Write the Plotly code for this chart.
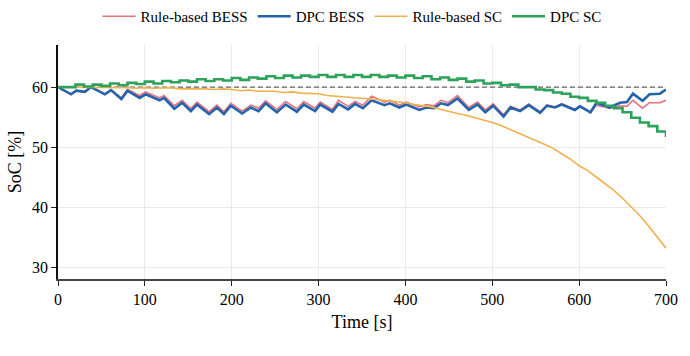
import plotly.graph_objects as go

# ---------------- data ----------------
bess_t = [0, 15, 21, 31, 38, 54, 61, 73, 80, 94, 101, 117, 122, 134, 143, 153, 160, 174, 183, 191,
          199, 212, 222, 231, 239, 252, 262, 275, 283, 296, 302, 316, 323, 334, 342, 351, 361, 376,
          382, 393, 401, 416, 424, 433, 441, 449, 460, 473, 483, 492, 501, 513, 521, 532, 542, 555,
          563, 572, 580, 595, 601, 613, 620, 635, 647, 655, 662, 673, 681, 693, 700]

dpc_bess = [60.0, 58.8, 59.4, 59.2, 60.0, 58.8, 59.5, 58.0, 59.4, 58.2, 58.8, 57.8, 58.2, 56.4, 57.4,
            56.0, 57.1, 55.5, 56.6, 55.5, 56.9, 55.6, 56.6, 56.0, 57.3, 55.8, 57.1, 55.9, 57.1, 56.0,
            57.1, 55.9, 57.2, 56.3, 57.2, 56.5, 57.8, 57.0, 57.3, 56.6, 57.1, 56.2, 56.6, 56.5, 57.3,
            57.0, 58.1, 56.2, 57.1, 55.8, 56.9, 55.1, 56.6, 56.0, 57.0, 55.7, 56.9, 56.6, 57.1, 56.2,
            56.8, 55.8, 57.4, 56.6, 57.4, 57.5, 58.9, 57.7, 58.8, 58.9, 59.6]

rule_bess = [60.0, 58.8, 59.4, 59.2, 60.0, 58.8, 59.5, 58.2, 59.6, 58.6, 59.2, 58.2, 58.6, 56.9, 57.8,
             56.4, 57.5, 55.9, 57.0, 55.9, 57.3, 56.0, 57.0, 56.5, 57.7, 56.3, 57.6, 56.4, 57.6, 56.5,
             57.5, 56.3, 57.8, 56.8, 57.6, 57.0, 58.5, 57.5, 57.8, 57.0, 57.5, 56.7, 57.1, 56.9, 57.8,
             57.4, 58.6, 56.6, 57.5, 56.2, 57.2, 55.4, 56.8, 56.2, 57.2, 55.9, 57.0, 56.7, 57.2, 56.3,
             56.9, 55.7, 57.0, 56.5, 56.9, 56.8, 57.8, 56.5, 57.4, 57.4, 57.8]

sc_t = list(range(0, 701, 10))

dpc_sc = [60.0, 60.0, 60.4, 60.1, 60.4, 60.2, 60.6, 60.3, 60.7, 60.5, 60.9, 60.6, 61.0, 60.8, 61.1,
          60.9, 61.3, 61.0, 61.3, 61.1, 61.5, 61.2, 61.6, 61.4, 61.8, 61.5, 61.9, 61.6, 61.9, 61.7,
          62.0, 61.7, 62.0, 61.7, 62.0, 61.7, 62.0, 61.7, 61.9, 61.6, 61.9, 61.5, 61.8, 61.3, 61.6,
          61.2, 61.4, 60.9, 61.1, 60.6, 60.7, 60.3, 60.4, 60.0, 60.0, 59.6, 59.5, 59.1, 58.9, 58.4,
          58.2, 57.7, 57.4, 56.9, 56.5, 55.8, 54.9, 54.1, 53.5, 52.6, 51.7]

rule_sc = [60.0, 60.0, 59.9, 60.0, 59.9, 59.9, 60.0, 59.9, 59.9, 59.8, 59.9, 59.8, 59.8, 59.9, 59.7,
           59.7, 59.8, 59.7, 59.6, 59.7, 59.6, 59.4, 59.5, 59.3, 59.3, 59.3, 59.1, 59.2, 59.0, 58.9,
           58.9, 58.6, 58.5, 58.4, 58.3, 58.2, 58.1, 57.9, 57.7, 57.6, 57.4, 57.1, 56.9, 56.7, 56.3,
           55.9, 55.6, 55.3, 54.9, 54.6, 54.1, 53.6, 53.0, 52.3, 51.8, 51.1, 50.5, 49.8, 48.9, 48.0,
           46.9, 46.1, 45.0, 43.9, 42.8, 41.5, 40.1, 38.6, 36.9, 35.1, 33.2]

reference_soc = 60
x_ticks = [0, 100, 200, 300, 400, 500, 600, 700]
y_ticks = [30, 40, 50, 60]

# ---------------- figure ----------------
FONT = "Liberation Serif, Times New Roman, serif"

fig = go.Figure()
# reference SoC level (drawn first so it sits above the grid but below the data lines)
fig.add_trace(go.Scatter(x=[sc_t[0], sc_t[-1]], y=[reference_soc, reference_soc], mode="lines",
                         showlegend=False, hoverinfo="skip",
                         line=dict(color="#444444", width=1, dash="5px,3px")))
fig.add_trace(go.Scatter(x=bess_t, y=rule_bess, mode="lines", name="Rule-based BESS",
                         line=dict(color="#e6737a", width=1.6)))
fig.add_trace(go.Scatter(x=bess_t, y=dpc_bess, mode="lines", name="DPC BESS",
                         line=dict(color="#2563ad", width=2.6)))
fig.add_trace(go.Scatter(x=sc_t, y=rule_sc, mode="lines", name="Rule-based SC",
                         line=dict(color="#f1b04c", width=1.6)))
fig.add_trace(go.Scatter(x=sc_t, y=dpc_sc, mode="lines", name="DPC SC", line_shape="hv",
                         line=dict(color="#2ca25a", width=2.6)))

fig.update_layout(
    width=690, height=356,
    margin=dict(l=58, r=20, t=43, b=77),
    paper_bgcolor="white", plot_bgcolor="white",
    font=dict(family=FONT, size=16, color="black"),
    showlegend=True,
    legend=dict(orientation="h", x=0.4837, xanchor="center", xref="paper",
                y=1.0, yref="container", yanchor="top",
                font=dict(family=FONT, size=15), itemwidth=33,
                bgcolor="rgba(0,0,0,0)"),
)
fig.update_xaxes(
    range=[0, 700], tickvals=x_ticks, ticks="outside", ticklen=5, tickcolor="#222",
    showline=True, linecolor="#444", linewidth=1.5, mirror=False,
    showgrid=True, gridcolor="#e9e9e9", gridwidth=1, zeroline=False,
    title=dict(text="Time [s]", font=dict(size=18), standoff=8),
    tickfont=dict(size=16),
)
fig.update_yaxes(
    range=[28.07, 67.0], tickvals=y_ticks, ticks="outside", ticklen=5, tickcolor="#222",
    showline=True, linecolor="#111", linewidth=1.5, mirror=False,
    showgrid=True, gridcolor="#e9e9e9", gridwidth=1, zeroline=False,
    title=dict(text="SoC [%]", font=dict(size=18), standoff=6),
    tickfont=dict(size=16),
)

fig.write_html("out.html")
